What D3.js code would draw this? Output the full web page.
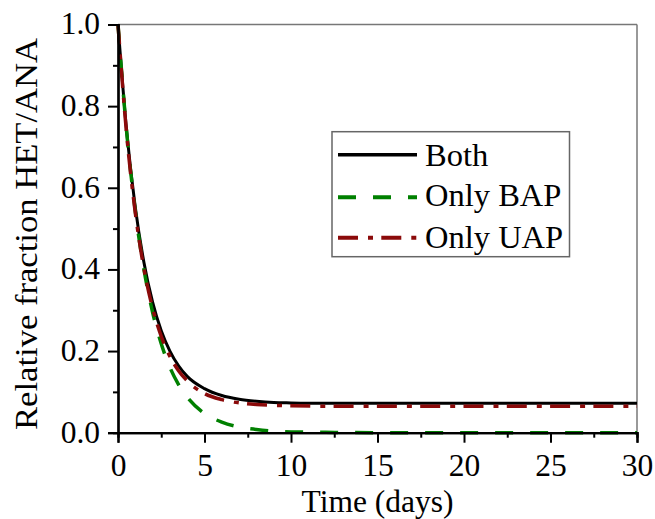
<!DOCTYPE html>
<html>
<head>
<meta charset="utf-8">
<script src="https://cdn.jsdelivr.net/npm/d3@7/dist/d3.min.js"></script>
<style>
  html, body { margin: 0; padding: 0; background: #fff; }
  svg { display: block; }
  svg text { font-family: 'Liberation Serif', 'Times New Roman', Times, 'DejaVu Serif', serif !important; }
</style>
</head>
<body>
<svg id="chart" width="655" height="519"></svg>
<script>
// ---- data ----
const timeDays = [0, 0.5, 1, 1.5, 2, 2.5, 3, 3.5, 4, 5, 6, 7, 8, 9, 10, 12, 15, 20, 25, 30];
const both     = [1.000, 0.739, 0.552, 0.417, 0.320, 0.250, 0.200, 0.164, 0.138, 0.108, 0.091, 0.082, 0.077, 0.074, 0.073, 0.072, 0.072, 0.072, 0.072, 0.072];
const onlyBAP  = [1.000, 0.737, 0.543, 0.400, 0.295, 0.218, 0.160, 0.118, 0.087, 0.047, 0.026, 0.014, 0.008, 0.004, 0.002, 0.001, 0.000, 0.000, 0.000, 0.000];
const onlyUAP  = [1.000, 0.731, 0.539, 0.402, 0.305, 0.236, 0.187, 0.152, 0.127, 0.096, 0.081, 0.073, 0.069, 0.067, 0.066, 0.065, 0.065, 0.065, 0.065, 0.065];
const seriesNames = ["Both", "Only BAP", "Only UAP"];
const xTicks = [0, 5, 10, 15, 20, 25, 30];
const yTicks = [0.0, 0.2, 0.4, 0.6, 0.8, 1.0];
const xMinorTicks = [2.5, 7.5, 12.5, 17.5, 22.5, 27.5];
const yMinorTicks = [0.1, 0.3, 0.5, 0.7, 0.9];

const FONT = "'Liberation Serif', 'Times New Roman', Times, 'DejaVu Serif', serif";
const svg = d3.select("#chart").attr("font-family", FONT);
const L = 118, R = 637, T = 24.5, B = 432.7;
const x = d3.scaleLinear().domain([0, 30]).range([L, R]);
const y = d3.scaleLinear().domain([0, 1]).range([B, T]);

const styles = [
  { color: "#000000", width: 3,   dash: null },
  { color: "#008000", width: 3.5, dash: "18,17" },
  { color: "#8b0a0a", width: 3.5, dash: "20,10,5,8.3" }
];
const seriesData = [both, onlyBAP, onlyUAP];

// frame top/right
svg.append("line").attr("x1", L).attr("x2", R).attr("y1", T).attr("y2", T)
  .attr("stroke", "#777").attr("stroke-width", 1.5);
svg.append("line").attr("x1", R).attr("x2", R).attr("y1", T).attr("y2", B)
  .attr("stroke", "#777").attr("stroke-width", 1.5);

// lines
const line = d3.line().x(d => x(d[0])).y(d => y(d[1])).curve(d3.curveMonotoneX);
seriesData.forEach((vals, i) => {
  const pts = timeDays.map((t, j) => [t, vals[j]]);
  svg.append("path").datum(pts)
    .attr("d", line)
    .attr("fill", "none")
    .attr("stroke", styles[i].color)
    .attr("stroke-width", styles[i].width)
    .attr("stroke-dasharray", styles[i].dash);
});

// axes
const fs = 31.5;
const xAxis = svg.append("g").attr("transform", `translate(0,${B})`)
  .call(d3.axisBottom(x).tickValues(xTicks).tickSize(10).tickPadding(11).tickFormat(d3.format("d")));
const xMinor = svg.append("g").attr("transform", `translate(0,${B})`)
  .call(d3.axisBottom(x).tickValues(xMinorTicks).tickSize(5).tickFormat(""));
const yAxis = svg.append("g").attr("transform", `translate(${L},0)`)
  .call(d3.axisLeft(y).tickValues(yTicks).tickSize(10).tickPadding(8).tickFormat(d3.format(".1f")));
const yMinor = svg.append("g").attr("transform", `translate(${L},0)`)
  .call(d3.axisLeft(y).tickValues(yMinorTicks).tickSize(5).tickFormat(""));

[xAxis, xMinor, yAxis, yMinor].forEach(g => {
  g.attr("font-family", FONT).attr("font-size", fs);
  g.select(".domain").attr("stroke", "#000").attr("stroke-width", 2.2);
  g.selectAll(".tick line").attr("stroke", "#000").attr("stroke-width", 2);
  g.selectAll(".tick text").attr("font-size", fs).attr("fill", "#000").attr("font-family", FONT);
});
yAxis.selectAll(".tick text").attr("dy", "0.30em");

// axis titles
svg.append("text").attr("x", (L + R) / 2).attr("y", 512)
  .attr("text-anchor", "middle").attr("font-size", 31.5).attr("font-family", FONT).text("Time (days)");
svg.append("text")
  .attr("transform", `translate(37,234) rotate(-90)`)
  .attr("text-anchor", "middle").attr("font-size", 31).attr("font-family", FONT)
  .attr("textLength", 392).attr("lengthAdjust", "spacingAndGlyphs")
  .text("Relative fraction HET/ANA");

// legend
const lg = svg.append("g");
lg.append("rect").attr("x", 332).attr("y", 131.7).attr("width", 237.5).attr("height", 125)
  .attr("fill", "#fff").attr("stroke", "#666").attr("stroke-width", 1.5);
const rowLineY = [154.7, 197.3, 237.7];
const rowTextY = [166, 206, 248];
seriesNames.forEach((name, i) => {
  lg.append("line").attr("x1", 338).attr("x2", 417)
    .attr("y1", rowLineY[i]).attr("y2", rowLineY[i])
    .attr("stroke", styles[i].color).attr("stroke-width", styles[i].width + 0.5)
    .attr("stroke-dasharray", styles[i].dash);
  lg.append("text").attr("x", 425).attr("y", rowTextY[i])
    .attr("font-size", 32.5).attr("font-family", FONT).text(name);
});
</script>
</body>
</html>
